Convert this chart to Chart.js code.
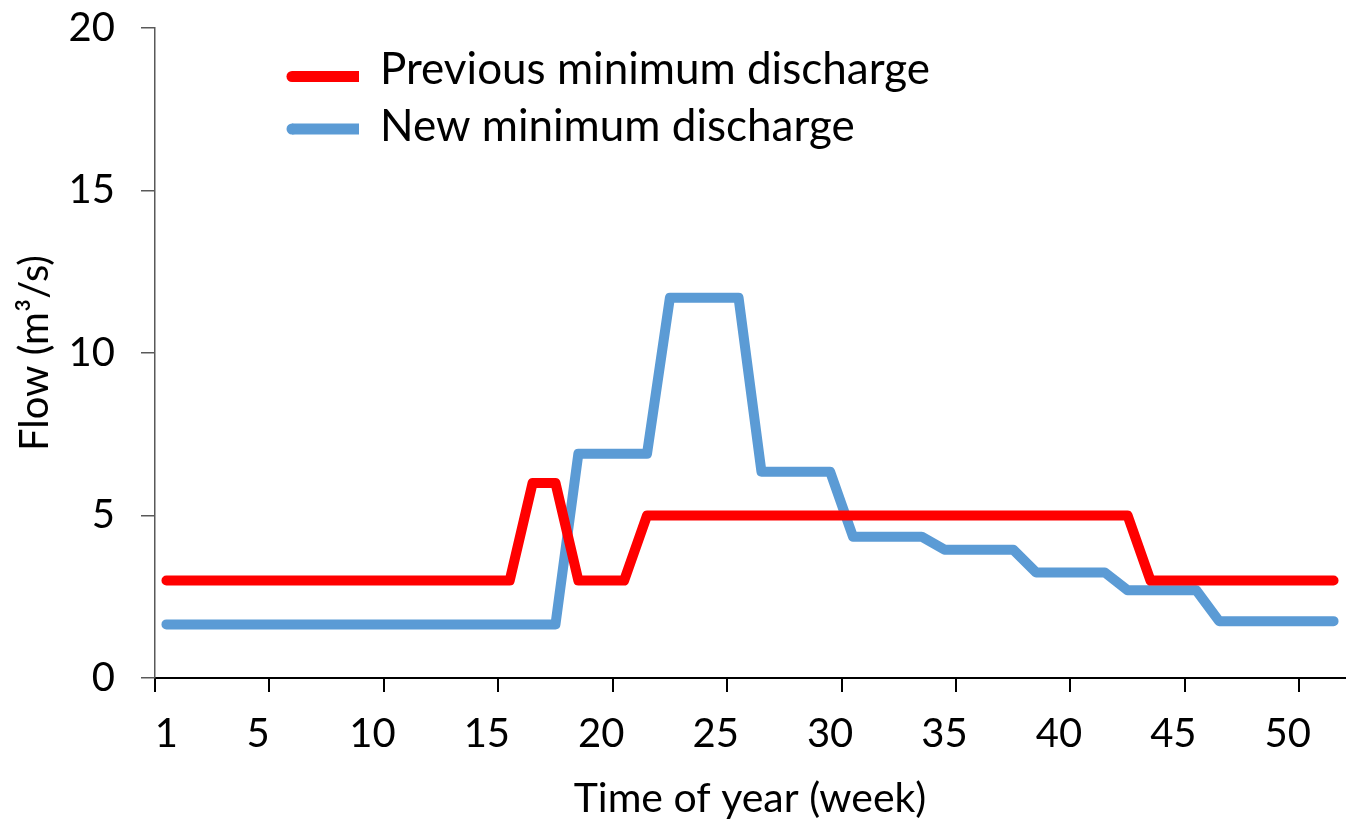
<!DOCTYPE html>
<html>
<head>
<meta charset="utf-8">
<script src="https://cdn.jsdelivr.net/npm/chart.js@4.4.1/dist/chart.umd.min.js"></script>
<style>
  html, body { margin: 0; padding: 0; background: #fff; }
  #wrap { width: 1354px; height: 819px; }
</style>
</head>
<body>
<div id="wrap"><canvas id="chart" width="1354" height="819"></canvas></div>
<script>
// Weeks of the year (x categories)
const weeks = ['1', '2', '3', '4', '5', '6', '7', '8', '9', '10',
    '11', '12', '13', '14', '15', '16', '17', '18', '19', '20',
    '21', '22', '23', '24', '25', '26', '27', '28', '29', '30',
    '31', '32', '33', '34', '35', '36', '37', '38', '39', '40',
    '41', '42', '43', '44', '45', '46', '47', '48', '49', '50',
    '51', '52'];

// Week labels shown under the axis
const shownWeeks = ['1', '5', '10', '15', '20', '25', '30', '35', '40', '45', '50'];

// Previous minimum discharge (m3/s)
const previousMin = [3, 3, 3, 3, 3, 3, 3, 3, 3, 3,
    3, 3, 3, 3, 3, 3, 6, 6, 3, 3,
    3, 5, 5, 5, 5, 5, 5, 5, 5, 5,
    5, 5, 5, 5, 5, 5, 5, 5, 5, 5,
    5, 5, 5, 3, 3, 3, 3, 3, 3, 3,
    3, 3];

// New minimum discharge (m3/s)
const newMin = [1.65, 1.65, 1.65, 1.65, 1.65, 1.65, 1.65, 1.65, 1.65, 1.65,
    1.65, 1.65, 1.65, 1.65, 1.65, 1.65, 1.65, 1.65, 6.9, 6.9,
    6.9, 6.9, 11.7, 11.7, 11.7, 11.7, 6.35, 6.35, 6.35, 6.35,
    4.35, 4.35, 4.35, 4.35, 3.95, 3.95, 3.95, 3.95, 3.25, 3.25,
    3.25, 3.25, 2.7, 2.7, 2.7, 2.7, 1.75, 1.75, 1.75, 1.75,
    1.75, 1.75];

const yTicks = [0, 5, 10, 15, 20];

const FONT = 'Lato, "Open Sans", sans-serif';

// Legend drawn inside the plot area, stacked like the original
const insideLegend = {
    id: 'insideLegend',
    afterDraw(chart) {
        const ctx = chart.ctx;
        const area = chart.chartArea;
        chart.data.datasets.forEach((ds, i) => {
            const y = area.top + 48.5 + i * 52.5;
            const x0 = area.left + 137;
            const x1 = area.left + 204;
            ctx.save();
            ctx.strokeStyle = ds.borderColor;
            ctx.fillStyle = ds.borderColor;
            ctx.lineWidth = 11;
            ctx.lineCap = 'butt';
            ctx.beginPath();
            ctx.moveTo(x0, y);
            ctx.lineTo(x1, y);
            ctx.stroke();
            ctx.beginPath();
            ctx.arc(x0, y, 5.5, 0, Math.PI * 2);
            ctx.fill();
            // text
            ctx.fillStyle = '#000';
            ctx.font = '44px ' + FONT;
            ctx.textBaseline = 'middle';
            ctx.textAlign = 'left';
            ctx.fillText(ds.label, area.left + 225, area.top + 42 + i * 57);
            ctx.restore();
        });
    }
};

const ctx = document.getElementById('chart').getContext('2d');
const chart = new Chart(ctx, {
    type: 'line',
    data: {
        labels: weeks,
        datasets: [{
                label: 'Previous minimum discharge',
                data: previousMin,
                borderColor: '#FF0000',
                borderWidth: 10,
                borderCapStyle: 'round',
                borderJoinStyle: 'round',
                pointRadius: 0,
                fill: false,
                tension: 0
            },
            {
                label: 'New minimum discharge',
                data: newMin,
                borderColor: '#5B9BD5',
                borderWidth: 10,
                borderCapStyle: 'round',
                borderJoinStyle: 'round',
                pointRadius: 0,
                fill: false,
                tension: 0
            }
        ]
    },
    options: {
        responsive: false,
        animation: false,
        layout: {
            padding: { top: 28, right: 9, left: 0, bottom: 0 }
        },
        plugins: {
            legend: { display: false },
            tooltip: { enabled: false }
        },
        scales: {
            x: {
                type: 'category',
                offset: true,
                grid: {
                    offset: true,
                    drawOnChartArea: false,
                    tickLength: 14,
                    lineWidth: 2,
                    color: c => (c.index % 5 === 0 && c.index < weeks.length) ? '#000' : 'rgba(0,0,0,0)'
                },
                border: { color: '#000', width: 2 },
                ticks: {
                    autoSkip: false,
                    maxRotation: 0,
                    padding: 18,
                    color: '#000',
                    font: { family: FONT, size: 40 },
                    callback: function (value) {
                        const lab = this.getLabelForValue(value);
                        return shownWeeks.includes(lab) ? lab : '';
                    }
                },
                title: {
                    display: true,
                    text: 'Time of year (week)',
                    color: '#000',
                    font: { family: FONT, size: 41, lineHeight: 1 },
                    padding: { top: 0, bottom: 0 }
                },
                afterFit: s => { s.height = 141; }
            },
            y: {
                min: 0,
                max: 20,
                afterBuildTicks: s => { s.ticks = yTicks.map(v => ({ value: v })); },
                grid: {
                    drawOnChartArea: false,
                    tickLength: 14,
                    lineWidth: 1.5,
                    color: '#595959'
                },
                border: { color: '#595959', width: 1.5 },
                ticks: {
                    padding: 26,
                    color: '#000',
                    font: { family: FONT, size: 40 }
                },
                title: {
                    display: true,
                    text: 'Flow (m³/s)',
                    color: '#000',
                    font: { family: FONT, size: 40, lineHeight: 1 },
                    padding: { top: 15, bottom: 0 }
                },
                afterFit: s => {
                    s.width = 155;
                    s.paddingTop = 0;
                    s.paddingBottom = 0;
                }
            }
        }
    },
    plugins: [insideLegend]
});
</script>
</body>
</html>
